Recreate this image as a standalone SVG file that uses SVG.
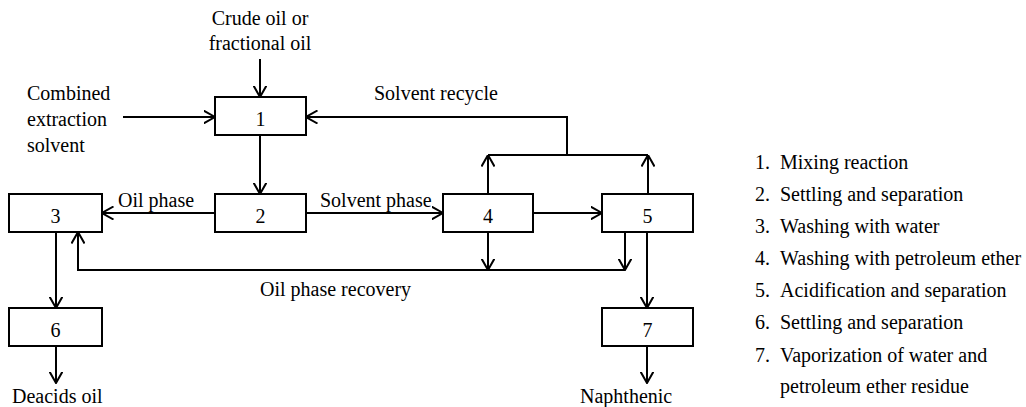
<svg xmlns="http://www.w3.org/2000/svg" width="1026" height="407" viewBox="0 0 1026 407">
<style>
text{font-size:20px;fill:#000}
.box{fill:#fff;stroke:#000;stroke-width:2}
.c{fill:none;stroke:#000;stroke-width:2}
.a{marker-end:url(#arr)}
.m{text-anchor:middle}
</style>
<defs>
<marker id="arr" viewBox="0 0 12 14" refX="11.5" refY="7" markerWidth="12" markerHeight="14" markerUnits="userSpaceOnUse" orient="auto">
<path d="M0,0.5 L11.5,7 L0,13.5" fill="none" stroke="#000" stroke-width="2"/>
</marker>
</defs>
<rect width="1026" height="407" fill="#fff"/>
<g id="connectors">
<path class="c a" d="M260,59 L260,97"/>
<path class="c a" d="M123,117 L215,117"/>
<path class="c a" d="M567,155 L567,117 L306,117"/>
<path class="c" d="M488,155 L648,155"/>
<path class="c a" d="M488,194 L488,155"/>
<path class="c a" d="M648,194 L648,155"/>
<path class="c a" d="M260,135 L260,194"/>
<path class="c a" d="M215,213 L102,213"/>
<path class="c a" d="M306,213 L443,213"/>
<path class="c a" d="M533,213 L602,213"/>
<path class="c a" d="M488,232 L488,270"/>
<path class="c a" d="M625,232 L625,270"/>
<path class="c a" d="M625,270 L78,270 L78,232"/>
<path class="c a" d="M647,232 L647,308"/>
<path class="c a" d="M56,232 L56,308"/>
<path class="c a" d="M56,346 L56,383"/>
<path class="c a" d="M647,346 L647,383"/>
</g>
<g font-family="'Liberation Serif', 'DejaVu Serif', serif">
<g id="node1"><rect class="box" x="215" y="97" width="91" height="38"/><text class="m" x="260.5" y="126">1</text></g>
<g id="node2"><rect class="box" x="215" y="194" width="91" height="38"/><text class="m" x="260.5" y="223">2</text></g>
<g id="node3"><rect class="box" x="9" y="194" width="93" height="38"/><text class="m" x="55.5" y="223">3</text></g>
<g id="node4"><rect class="box" x="443" y="194" width="90" height="38"/><text class="m" x="488" y="223">4</text></g>
<g id="node5"><rect class="box" x="602" y="194" width="91" height="38"/><text class="m" x="647.5" y="223">5</text></g>
<g id="node6"><rect class="box" x="9" y="308" width="93" height="38"/><text class="m" x="55.5" y="337">6</text></g>
<g id="node7"><rect class="box" x="602" y="308" width="91" height="38"/><text class="m" x="647.5" y="337">7</text></g>
<g id="labels">
<text class="m" x="260" y="25">Crude oil or</text>
<text class="m" x="260" y="50">fractional oil</text>
<text x="27" y="100">Combined</text>
<text x="27" y="126">extraction</text>
<text x="27" y="152">solvent</text>
<text x="374" y="100">Solvent recycle</text>
<text x="118" y="207">Oil phase</text>
<text x="320" y="207">Solvent phase</text>
<text x="260" y="296">Oil phase recovery</text>
<text x="12" y="403">Deacids oil</text>
<text x="580" y="403">Naphthenic</text>
</g>
<g id="legend">
<text x="755" y="169">1.</text><text x="780" y="169">Mixing reaction</text>
<text x="755" y="201">2.</text><text x="780" y="201">Settling and separation</text>
<text x="755" y="233">3.</text><text x="780" y="233">Washing with water</text>
<text x="755" y="265">4.</text><text x="780" y="265">Washing with petroleum ether</text>
<text x="755" y="297">5.</text><text x="780" y="297">Acidification and separation</text>
<text x="755" y="329">6.</text><text x="780" y="329">Settling and separation</text>
<text x="755" y="362">7.</text><text x="780" y="362">Vaporization of water and</text>
<text x="780" y="393">petroleum ether residue</text>
</g>
</g>
</svg>
